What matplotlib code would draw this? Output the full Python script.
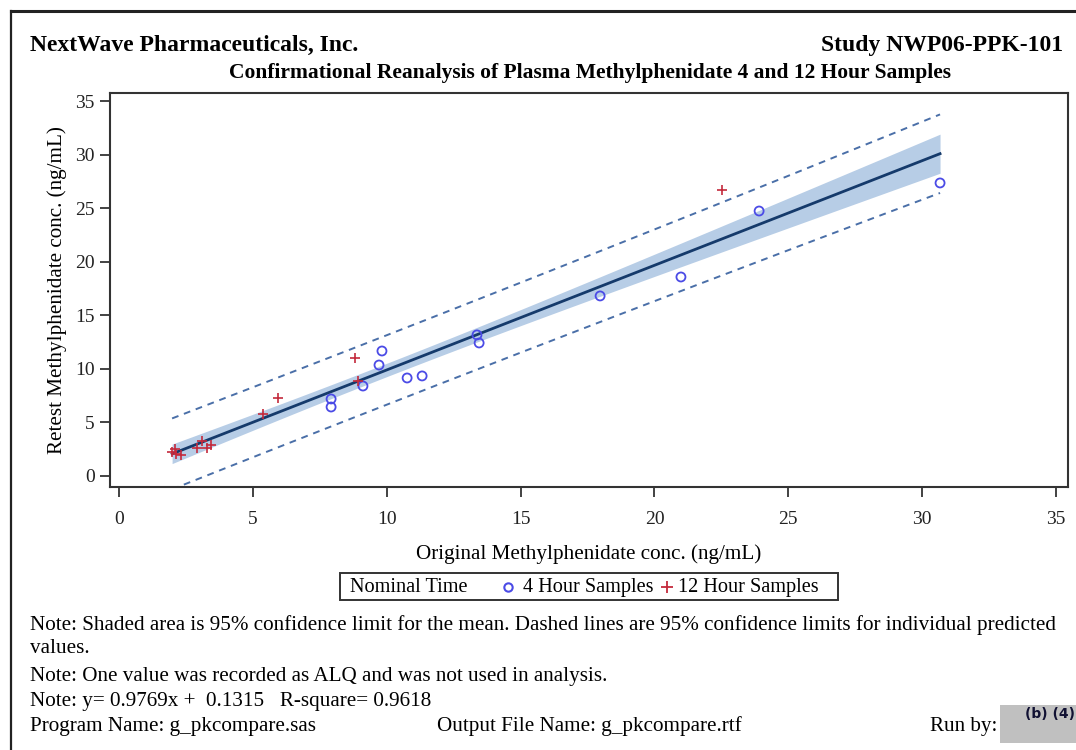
import numpy as np
import matplotlib
matplotlib.use("Agg")
import matplotlib.pyplot as plt
from matplotlib.lines import Line2D
from matplotlib.patches import Rectangle

# Data
x_4h = [7.92, 7.92, 9.11, 9.71, 9.82, 10.76, 11.32, 13.37, 13.45, 17.97, 20.99, 23.91, 30.67]
y_4h = [7.19, 6.44, 8.40, 10.36, 11.67, 9.15, 9.34, 13.17, 12.42, 16.81, 18.58, 24.74, 27.36]
x_12h = [1.98, 2.09, 2.13, 2.32, 2.91, 3.10, 3.29, 3.44, 5.38, 5.94, 8.82, 8.93, 22.53]
y_12h = [2.24, 2.52, 2.05, 1.96, 2.61, 3.27, 2.61, 2.89, 5.79, 7.28, 11.02, 8.87, 26.70]

slope = 0.9769
intercept = 0.1315
t_crit = 2.064  # t(0.975, 24)

ticks = [0, 5, 10, 15, 20, 25, 30, 35]

W, H = 1076, 750
plt.rcParams['font.family'] = ['Liberation Serif', 'DejaVu Serif']

fig = plt.figure(figsize=(W / 100, H / 100), dpi=100)


def fx(px):
    return px / W


def fy(py):
    return 1 - py / H


# outer page frame
fig.add_artist(Line2D([fx(11), 1.0], [fy(11), fy(11)], color='#222222', lw=2.2))
fig.add_artist(Line2D([fx(11), fx(11)], [fy(11), 0.0], color='#222222', lw=1.6))

ax = fig.add_axes([fx(110), fy(487), fx(1068) - fx(110), fy(93) - fy(487)])

# regression with confidence bands
xs = np.array(x_4h + x_12h)
ys = np.array(y_4h + y_12h)
n = len(xs)
resid = ys - (slope * xs + intercept)
s = np.sqrt(np.sum(resid ** 2) / (n - 2))
sxx = np.sum((xs - xs.mean()) ** 2)
xg = np.linspace(xs.min(), xs.max(), 200)
yg = slope * xg + intercept
se_mean = s * np.sqrt(1 / n + (xg - xs.mean()) ** 2 / sxx)
se_pred = s * np.sqrt(1 + 1 / n + (xg - xs.mean()) ** 2 / sxx)

ax.fill_between(xg, yg - t_crit * se_mean, yg + t_crit * se_mean,
                color='#b7cde6', lw=0, zorder=1)
ax.plot(xg, yg + t_crit * se_pred, color='#4a6fa8', lw=1.4, ls=(0, (3.5, 3)), zorder=2)
ax.plot(xg, yg - t_crit * se_pred, color='#4a6fa8', lw=1.4, ls=(0, (3.5, 3)), zorder=2)
ax.plot(xg, yg, color='#153a6b', lw=2.0, zorder=3)

ax.scatter(x_4h, y_4h, s=42, marker='o', facecolors='none',
           edgecolors='#4b4be6', linewidths=1.3, zorder=4)
ax.scatter(x_12h, y_12h, s=60, marker='+', color='#c42a3c',
           linewidths=1.2, zorder=4)

ax.set_xlim(-0.34, 35.45)
ax.set_ylim(-1.03, 35.76)
ax.set_xticks(ticks)
ax.set_yticks(ticks)
ax.tick_params(direction='out', length=7, width=1.2, labelsize=14,
               colors='#222222', pad=4)
ax.tick_params(axis='x', pad=10)
for sp in ax.spines.values():
    sp.set_linewidth(1.5)
    sp.set_color('#333333')

ax.set_xlabel('Original Methylphenidate conc. (ng/mL)', fontsize=15.2, labelpad=12)
ax.set_ylabel('Retest Methylphenidate conc. (ng/mL)', fontsize=15.2, labelpad=6)

# legend box, drawn by hand so the title sits on the left like the SAS output
fig.add_artist(Rectangle((fx(340), fy(600)), fx(498), fy(573) - fy(600),
                         transform=fig.transFigure, fill=False,
                         edgecolor='#333333', lw=1.4))
fig.text(fx(350), fy(592), 'Nominal Time', fontsize=14.6, va='baseline', ha='left')
fig.add_artist(Line2D([fx(508)], [fy(587)], marker='o', ms=6, mfc='none',
                      mec='#4b4be6', mew=1.5, ls='none'))
fig.text(fx(523), fy(592), '4 Hour Samples', fontsize=14.6, va='baseline', ha='left')
fig.add_artist(Line2D([fx(667)], [fy(587)], marker='+', ms=8,
                      color='#c42a3c', mew=1.3, ls='none'))
fig.text(fx(678), fy(592), '12 Hour Samples', fontsize=14.6, va='baseline', ha='left')

# headers
fig.text(fx(30), fy(51), 'NextWave Pharmaceuticals, Inc.', fontsize=17,
         fontweight='bold', va='baseline', ha='left')
fig.text(fx(1063), fy(51), 'Study NWP06-PPK-101', fontsize=17,
         fontweight='bold', va='baseline', ha='right')
fig.text(fx(590), fy(78), 'Confirmational Reanalysis of Plasma Methylphenidate 4 and 12 Hour Samples',
         fontsize=15.5, fontweight='bold', va='baseline', ha='center')

# footnotes
notes = [
    (630, 'Note: Shaded area is 95% confidence limit for the mean. Dashed lines are 95% confidence limits for individual predicted'),
    (653, 'values.'),
    (681, 'Note: One value was recorded as ALQ and was not used in analysis.'),
    (706, 'Note: y= 0.9769x +  0.1315   R-square= 0.9618'),
]
for py, txt in notes:
    fig.text(fx(30), fy(py), txt, fontsize=15.2, va='baseline', ha='left')

fig.text(fx(30), fy(731), 'Program Name: g_pkcompare.sas', fontsize=15.2, va='baseline')
fig.text(fx(437), fy(731), 'Output File Name: g_pkcompare.rtf', fontsize=15.2, va='baseline')
fig.text(fx(997), fy(731), 'Run by:', fontsize=15.2, va='baseline', ha='right')
fig.add_artist(Rectangle((fx(1000), fy(743)), fx(76), fy(705) - fy(743),
                         transform=fig.transFigure, color='#c0c0c0', lw=0))
fig.text(fx(1075), fy(714), '(b) (4)', fontsize=10, fontweight='bold',
         family=['DejaVu Sans'], color='#111133', va='center', ha='right')

fig.savefig('out.png', dpi=100)
